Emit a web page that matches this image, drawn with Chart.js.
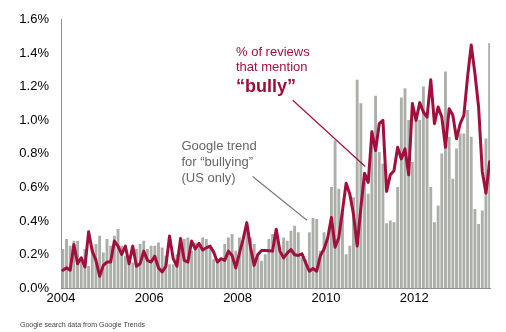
<!DOCTYPE html>
<html>
<head>
<meta charset="utf-8">
<script src="https://cdn.jsdelivr.net/npm/chart.js@4.4.0/dist/chart.umd.min.js"></script>
<style>
    html, body { margin: 0; padding: 0; background: #fff; }
    #wrap { position: relative; width: 506px; height: 332px; }
</style>
</head>
<body>
<div id="wrap"><canvas id="bullyChart" width="506" height="332"></canvas></div>
<script>
"use strict";

// monthly values starting Jan 2004, in percent
var startYear = 2004;

var googleTrend = [
    0.23, 0.29, 0.25, 0.28, 0.28, 0.18, 0.23, 0.13, 0.24, 0.26, 0.31, 0.21,
    0.29, 0.25, 0.31, 0.35, 0.25, 0.19, 0.15, 0.15, 0.23, 0.26, 0.28, 0.23,
    0.25, 0.25, 0.27, 0.24, 0.19, 0.14, 0.14, 0.20, 0.28, 0.29, 0.30, 0.22,
    0.27, 0.26, 0.30, 0.29, 0.24, 0.17, 0.15, 0.16, 0.26, 0.30, 0.32, 0.22,
    0.30, 0.28, 0.33, 0.30, 0.26, 0.18, 0.16, 0.20, 0.29, 0.32, 0.35, 0.24,
    0.30, 0.28, 0.34, 0.37, 0.33, 0.18, 0.17, 0.33, 0.415, 0.41, 0.22, 0.33,
    0.30, 0.60, 0.88, 0.59, 0.45, 0.20, 0.25, 0.54, 1.24, 1.10, 0.675, 0.56,
    0.94, 1.145, 0.81, 0.74, 0.384, 0.40, 0.39, 0.60, 1.135, 1.19, 1.00, 0.75,
    1.00, 1.00, 1.20, 1.02, 0.60, 0.39, 0.49, 0.80, 1.29, 0.90, 0.65, 0.83,
    0.92, 0.92, 1.06, 0.90, 0.47, 0.38, 0.46, 0.89, 1.46
];

var reviewShare = [
    0.106, 0.12, 0.106, 0.26, 0.145, 0.18, 0.125, 0.335, 0.22, 0.165, 0.07, 0.135,
    0.155, 0.155, 0.28, 0.25, 0.20, 0.25, 0.145, 0.25, 0.13, 0.145, 0.22, 0.165,
    0.155, 0.19, 0.12, 0.096, 0.13, 0.31, 0.175, 0.13, 0.296, 0.165, 0.155, 0.28,
    0.233, 0.267, 0.227, 0.24, 0.25, 0.214, 0.155, 0.175, 0.165, 0.22, 0.194, 0.12,
    0.208, 0.29, 0.39, 0.243, 0.135, 0.20, 0.224, 0.224, 0.222, 0.22, 0.35, 0.22,
    0.18, 0.208, 0.23, 0.198, 0.194, 0.204, 0.15, 0.10, 0.116, 0.10, 0.194, 0.233,
    0.30, 0.42, 0.243, 0.30, 0.46, 0.625, 0.56, 0.44, 0.25, 0.48, 0.684, 0.63,
    0.93, 0.82, 0.98, 1.00, 0.576, 0.675, 0.70, 0.84, 0.77, 0.83, 0.675, 1.10,
    1.00, 1.106, 1.05, 1.02, 1.243, 0.98, 1.08, 1.02, 0.84, 1.07, 1.03, 0.89,
    0.98, 1.03, 1.26, 1.45, 1.28, 1.08, 0.694, 0.567, 0.753
];

var yearTicks = [2004, 2006, 2008, 2010, 2012];
var pctMax = 1.6;
var pctStep = 0.2;

var crimson = '#a30f3d';
var barGrey = '#abafa8';
var axisGrey = '#8e8e8e';
var fontFamily = '"Liberation Sans", Arial, Helvetica, sans-serif';

function monthX(i) {
    return startYear + (i + 0.5) / 12;
}

function toPoints(values) {
    return values.map(function (v, i) { return { x: monthX(i), y: v }; });
}

// callouts, anchored in data units (year, percent)
var callouts = [
    { color: crimson, from: [2009.25, 1.12], to: [2010.89, 0.725] },
    { color: '#7a7a7a', from: [2008.34, 0.665], to: [2009.57, 0.404] }
];

var calloutText = [
    { text: '% of reviews', x: 236, y: 52, font: '13px ' + fontFamily, color: crimson },
    { text: 'that mention', x: 236, y: 67.5, font: '13px ' + fontFamily, color: crimson },
    { text: '\u201cbully\u201d', x: 236, y: 87, font: 'bold 18px ' + fontFamily, color: '#9c0d38' },
    { text: 'Google trend', x: 181.5, y: 146.5, font: '13px ' + fontFamily, color: '#666666' },
    { text: 'for \u201cbullying\u201d', x: 181.5, y: 162.5, font: '13px ' + fontFamily, color: '#666666' },
    { text: '(US only)', x: 181.5, y: 178.5, font: '13px ' + fontFamily, color: '#666666' },
    { text: 'Google search data from Google Trends', x: 20, y: 325.5, font: '7px ' + fontFamily, color: '#444444' }
];

var annotate = {
    id: 'annotate',
    afterDraw: function (chart) {
        var ctx = chart.ctx;
        var xs = chart.scales.x, ys = chart.scales.y;
        ctx.save();
        callouts.forEach(function (c) {
            ctx.beginPath();
            ctx.strokeStyle = c.color;
            ctx.lineWidth = 1.2;
            ctx.moveTo(xs.getPixelForValue(c.from[0]), ys.getPixelForValue(c.from[1]));
            ctx.lineTo(xs.getPixelForValue(c.to[0]), ys.getPixelForValue(c.to[1]));
            ctx.stroke();
        });
        ctx.textAlign = 'left';
        ctx.textBaseline = 'middle';
        calloutText.forEach(function (t) {
            ctx.font = t.font;
            ctx.fillStyle = t.color;
            ctx.fillText(t.text, t.x, t.y);
        });
        ctx.restore();
    }
};

var chart = new Chart(document.getElementById('bullyChart'), {
    type: 'bar',
    data: {
        datasets: [
            {
                type: 'line',
                label: '% of reviews that mention "bully"',
                data: toPoints(reviewShare),
                borderColor: crimson,
                borderWidth: 3,
                borderJoinStyle: 'round',
                borderCapStyle: 'round',
                pointRadius: 0,
                tension: 0,
                order: 0
            },
            {
                type: 'bar',
                label: 'Google trend for "bullying"',
                data: toPoints(googleTrend),
                backgroundColor: barGrey,
                barThickness: 2.2,
                order: 1
            }
        ]
    },
    options: {
        responsive: false,
        animation: false,
        devicePixelRatio: 1,
        layout: { padding: { top: 16, right: 16, left: 0, bottom: 0 } },
        plugins: { legend: { display: false }, tooltip: { enabled: false } },
        scales: {
            x: {
                type: 'linear',
                offset: false,
                min: startYear,
                max: startYear + 116.6 / 12,
                afterBuildTicks: function (scale) {
                    scale.ticks = yearTicks.map(function (v) { return { value: v }; });
                },
                afterFit: function (scale) { scale.height = 44; },
                grid: { display: false, drawTicks: false },
                border: { display: true, color: axisGrey, width: 1 },
                ticks: {
                    autoSkip: false,
                    maxRotation: 0,
                    padding: 3,
                    color: '#000',
                    font: { family: fontFamily, size: 13 },
                    callback: function (v) { return String(v); }
                }
            },
            y: {
                min: 0,
                max: pctMax,
                afterFit: function (scale) { scale.width = 61; },
                grid: { display: false, drawTicks: false },
                border: { display: true, color: axisGrey, width: 1 },
                ticks: {
                    stepSize: pctStep,
                    padding: 12,
                    color: '#000',
                    font: { family: fontFamily, size: 13 },
                    callback: function (v) { return v.toFixed(1) + '%'; }
                }
            }
        }
    },
    plugins: [annotate]
});
</script>
</body>
</html>
